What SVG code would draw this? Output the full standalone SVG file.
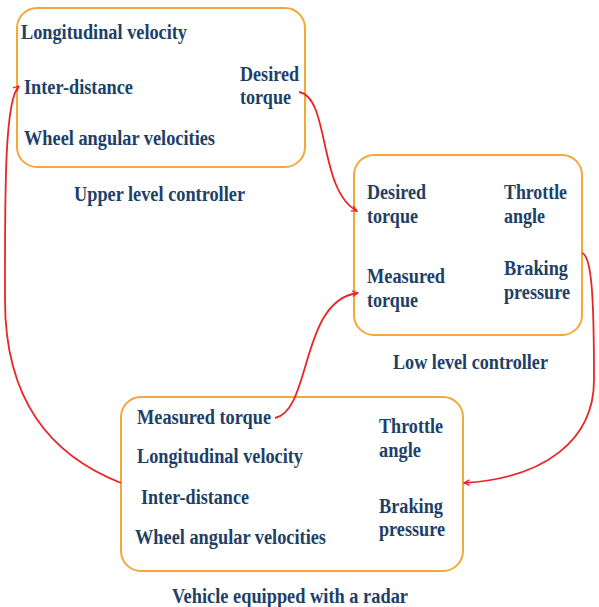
<svg xmlns="http://www.w3.org/2000/svg" width="599" height="607" viewBox="0 0 599 607">
<style>
.box{fill:#fff;stroke:#F4A83A;stroke-width:2}
text{font-family:"Liberation Serif","Times New Roman",serif;font-weight:bold;font-size:20.5px;fill:#1E3F66}
.c{fill:none;stroke:#E8262A;stroke-width:1.8}
</style>
<defs>
<marker id="ah" viewBox="0 0 10 10" refX="9" refY="5" markerWidth="7" markerHeight="7" orient="auto" markerUnits="userSpaceOnUse">
<path d="M1,1 L9,5 L1,9" fill="none" stroke="#E8262A" stroke-width="1.8"/>
</marker>
</defs>
<rect width="599" height="607" fill="#fff"/>
<g id="upper">
<rect class="box" x="17" y="8" width="288" height="159" rx="20"/>
<text x="21" y="39" textLength="166" lengthAdjust="spacingAndGlyphs">Longitudinal velocity</text>
<text x="24" y="94" textLength="109" lengthAdjust="spacingAndGlyphs">Inter-distance</text>
<text x="24" y="145" textLength="191" lengthAdjust="spacingAndGlyphs">Wheel angular velocities</text>
<text x="240" y="81" textLength="59" lengthAdjust="spacingAndGlyphs">Desired</text>
<text x="240" y="104" textLength="51" lengthAdjust="spacingAndGlyphs">torque</text>
<text x="74" y="201" textLength="171" lengthAdjust="spacingAndGlyphs">Upper level controller</text>
</g>
<g id="low">
<rect class="box" x="354" y="155" width="228" height="180" rx="20"/>
<text x="367" y="199" textLength="59" lengthAdjust="spacingAndGlyphs">Desired</text>
<text x="367" y="223" textLength="51" lengthAdjust="spacingAndGlyphs">torque</text>
<text x="367" y="283" textLength="78" lengthAdjust="spacingAndGlyphs">Measured</text>
<text x="367" y="307" textLength="51" lengthAdjust="spacingAndGlyphs">torque</text>
<text x="504" y="199" textLength="63" lengthAdjust="spacingAndGlyphs">Throttle</text>
<text x="504" y="223" textLength="41" lengthAdjust="spacingAndGlyphs">angle</text>
<text x="504" y="275" textLength="64" lengthAdjust="spacingAndGlyphs">Braking</text>
<text x="504" y="299" textLength="66" lengthAdjust="spacingAndGlyphs">pressure</text>
<text x="393" y="369" textLength="155" lengthAdjust="spacingAndGlyphs">Low level controller</text>
</g>
<g id="vehicle">
<rect class="box" x="121" y="397" width="342" height="174" rx="20"/>
<text x="137" y="424" textLength="134" lengthAdjust="spacingAndGlyphs">Measured torque</text>
<text x="137" y="463" textLength="166" lengthAdjust="spacingAndGlyphs">Longitudinal velocity</text>
<text x="141" y="504" textLength="108" lengthAdjust="spacingAndGlyphs">Inter-distance</text>
<text x="135" y="544" textLength="191" lengthAdjust="spacingAndGlyphs">Wheel angular velocities</text>
<text x="379" y="433" textLength="64" lengthAdjust="spacingAndGlyphs">Throttle</text>
<text x="379" y="457" textLength="42" lengthAdjust="spacingAndGlyphs">angle</text>
<text x="379" y="513" textLength="64" lengthAdjust="spacingAndGlyphs">Braking</text>
<text x="379" y="536" textLength="66" lengthAdjust="spacingAndGlyphs">pressure</text>
<text x="172" y="603" textLength="236" lengthAdjust="spacingAndGlyphs">Vehicle equipped with a radar</text>
</g>
<g id="connectors">
<path class="c" d="M299,92 C330,97 318,190 357,211" marker-end="url(#ah)"/>
<path class="c" d="M275,418 C312,410 300,300 358,293" marker-end="url(#ah)"/>
<path class="c" d="M582,253 C592,256 594,300 594,380 C594,440 545,478 464,483" marker-end="url(#ah)"/>
<path class="c" d="M121,483 C50,455 5,400 5,300 C5,200 4,100 19,86" marker-end="url(#ah)"/>
</g>
</svg>
